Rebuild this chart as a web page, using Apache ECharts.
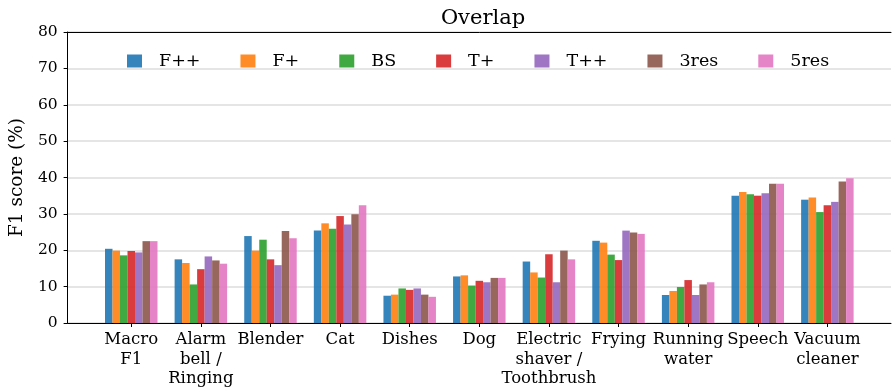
<!DOCTYPE html>
<html>
<head>
<meta charset="utf-8">
<script src="https://cdn.jsdelivr.net/npm/echarts@6/dist/echarts.min.js"></script>
<style>html,body{margin:0;padding:0;background:#fff}#c{width:894px;height:391px}</style>
</head>
<body>
<div id="c"></div>
<script>
var categories = ["Macro\nF1", "Alarm\nbell /\nRinging", "Blender", "Cat", "Dishes", "Dog", "Electric\nshaver /\nToothbrush", "Frying", "Running\nwater", "Speech", "Vacuum\ncleaner"];
var seriesNames = ["F++", "F+", "BS", "T+", "T++", "3res", "5res"];
var valsFpp  = [20.4, 17.5, 23.9, 25.4, 7.5, 12.8, 16.9, 22.6, 7.7, 35.0, 33.9];
var valsFp   = [19.9, 16.5, 19.9, 27.4, 7.8, 13.1, 13.9, 22.1, 8.8, 36.0, 34.5];
var valsBS   = [18.6, 10.6, 22.9, 25.9, 9.5, 10.3, 12.5, 18.8, 9.9, 35.4, 30.5];
var valsTp   = [19.8, 14.8, 17.5, 29.4, 9.1, 11.6, 18.9, 17.3, 11.8, 35.0, 32.4];
var valsTpp  = [19.4, 18.3, 15.9, 27.1, 9.5, 11.2, 11.2, 25.4, 7.7, 35.7, 33.3];
var vals3res = [22.5, 17.2, 25.3, 29.9, 7.8, 12.4, 19.9, 24.9, 10.6, 38.3, 38.9];
var vals5res = [22.5, 16.3, 23.3, 32.4, 7.2, 12.4, 17.5, 24.5, 11.2, 38.3, 39.8];
var yTicks = [0, 10, 20, 30, 40, 50, 60, 70, 80];
var colors = ["#1f77b4", "#ff7f0e", "#2ca02c", "#d62728", "#9467bd", "#8c564b", "#e377c2"];

var allVals = [valsFpp, valsFp, valsBS, valsTp, valsTpp, vals3res, vals5res];
var idx = categories.map(function (c, i) { return i; });
var FONT = "DejaVu Serif";

var series = seriesNames.map(function (name, s) {
  return {
    name: name,
    type: 'bar',
    barWidth: 7.5,
    barGap: '0%',
    itemStyle: { color: colors[s], opacity: 0.9 },
    data: allVals[s].map(function (v, i) { return [i, v]; })
  };
});

var chart = echarts.init(document.getElementById('c'), null, { renderer: 'canvas' });
chart.setOption({
  animation: false,
  backgroundColor: '#fff',
  color: colors,
  title: {
    text: 'Overlap',
    left: 478, top: 3,
    textAlign: 'center',
    textStyle: { fontFamily: FONT, fontWeight: 'normal', fontSize: 21, color: '#000' }
  },
  legend: {
    data: seriesNames,
    left: 122, top: 47,
    itemWidth: 15, itemHeight: 13,
    itemGap: 40,
    icon: 'rect',
    textStyle: { fontFamily: FONT, fontSize: 17.5, color: '#000', padding: [0, 0, 0, 12] }
  },
  grid: { left: 64, right: 3, top: 32, bottom: 68, containLabel: false },
  xAxis: [{
    type: 'value',
    min: -0.914, max: 10.914,
    axisLine: { show: true, onZero: false, lineStyle: { color: '#000', width: 1 } },
    axisTick: { show: true, customValues: idx, length: 4, lineStyle: { color: '#000' } },
    axisLabel: {
      customValues: idx,
      formatter: function (v) { return categories[Math.round(v)]; },
      fontFamily: FONT, fontSize: 16.5, color: '#000', lineHeight: 19.5, margin: 7, align: 'center'
    },
    splitLine: { show: false }
  }, {
    type: 'value', position: 'top',
    min: -0.914, max: 10.914,
    axisLine: { show: true, onZero: false, lineStyle: { color: '#000', width: 1 } },
    axisTick: { show: false }, axisLabel: { show: false }, splitLine: { show: false }
  }],
  yAxis: {
    type: 'value',
    min: yTicks[0], max: yTicks[yTicks.length - 1], interval: 10,
    name: 'F1 score (%)',
    nameLocation: 'middle', nameGap: 40,
    nameTextStyle: { fontFamily: FONT, fontSize: 18.5, color: '#000' },
    axisLine: { show: true, onZero: false, lineStyle: { color: '#000', width: 1 } },
    axisTick: { show: true, length: 4, lineStyle: { color: '#000' } },
    axisLabel: { fontFamily: FONT, fontSize: 15.5, color: '#000', margin: 10 },
    splitLine: { show: true, lineStyle: { color: '#dcdcdc', width: 1.5 } }
  },
  series: series
});
</script>
</body>
</html>
